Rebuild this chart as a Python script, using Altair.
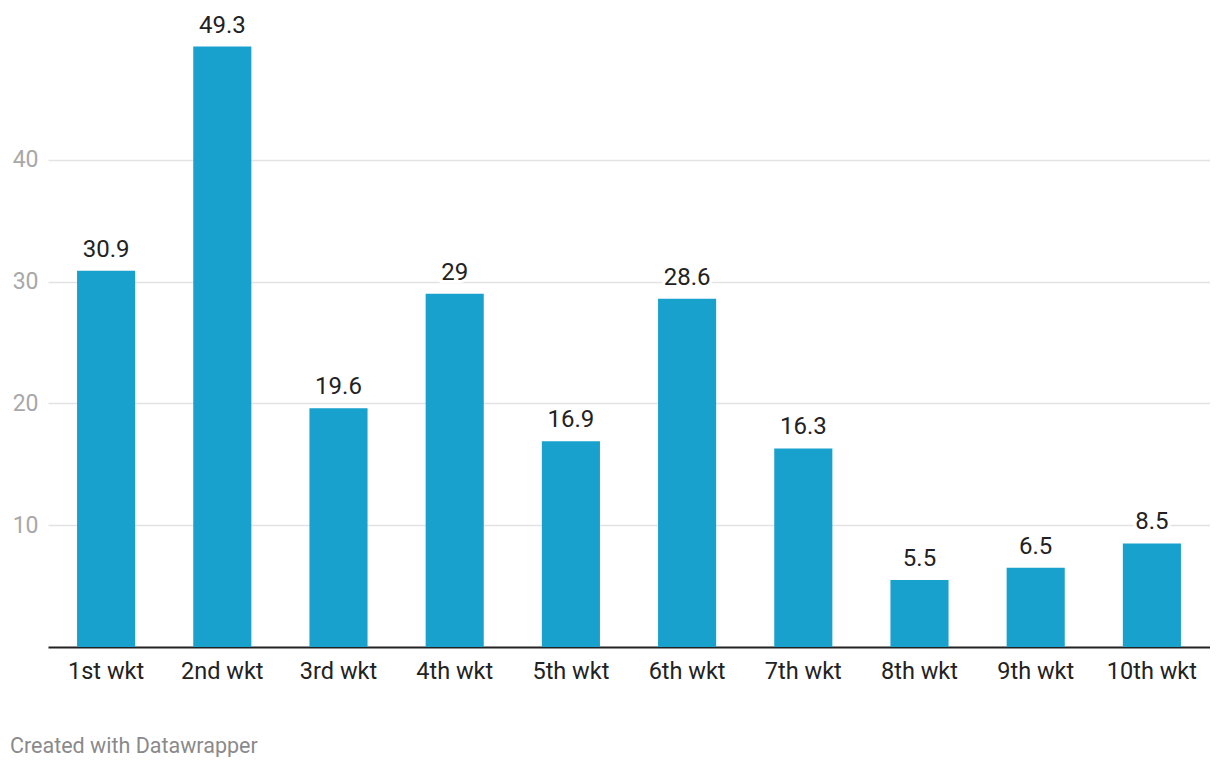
import altair as alt
import pandas as pd

categories = ["1st wkt", "2nd wkt", "3rd wkt", "4th wkt", "5th wkt",
              "6th wkt", "7th wkt", "8th wkt", "9th wkt", "10th wkt"]
values = [30.9, 49.3, 19.6, 29, 16.9, 28.6, 16.3, 5.5, 6.5, 8.5]
labels = ["30.9", "49.3", "19.6", "29", "16.9", "28.6", "16.3", "5.5", "6.5", "8.5"]
y_ticks = [10, 20, 30, 40]

df = pd.DataFrame({"cat": categories, "val": values, "lbl": labels})

FONT = "Roboto"

x_enc = alt.X("cat:N", sort=categories,
              scale=alt.Scale(paddingInner=0.5, paddingOuter=0.25),
              axis=alt.Axis(title=None, labelAngle=0, labelFontSize=23.5,
                            labelColor="#222222", labelFont=FONT,
                            labelPadding=12, ticks=False, domain=True,
                            domainColor="#222222", domainWidth=2, grid=False))
y_enc = alt.Y("val:Q", scale=alt.Scale(domain=[0, 50], nice=False),
              axis=alt.Axis(title=None, values=y_ticks, labelFontSize=23,
                            labelColor="#a8a8a8", labelFont=FONT,
                            labelPadding=10, ticks=False, domain=False,
                            grid=True, gridColor="#e3e3e3", gridWidth=1.5))

base = alt.Chart(df)

bars = base.mark_bar(color="#18a1cd").encode(x=x_enc, y=y_enc)

halo = base.mark_text(baseline="alphabetic", dy=-14, fontSize=24, font=FONT,
                      color="white", stroke="white", strokeWidth=6).encode(
    x=alt.X("cat:N", sort=categories), y="val:Q", text="lbl:N")

text = base.mark_text(baseline="alphabetic", dy=-14, fontSize=24, font=FONT,
                      color="#222222").encode(
    x=alt.X("cat:N", sort=categories), y="val:Q", text="lbl:N")

chart = alt.layer(bars, halo, text).properties(
    width=1162, height=609,
    autosize=alt.AutoSizeParams(type="none"),
    padding={"left": 40, "top": 30, "right": 0, "bottom": 110},
    title=alt.TitleParams("Created with Datawrapper", orient="bottom",
                          anchor="start", frame="group", dx=-38, offset=53,
                          fontSize=21.5, font=FONT, fontWeight="normal",
                          color="#8a8a8a"),
).configure_view(stroke=None)

chart.save("out.html", embed_options={"renderer": "svg", "actions": False})
